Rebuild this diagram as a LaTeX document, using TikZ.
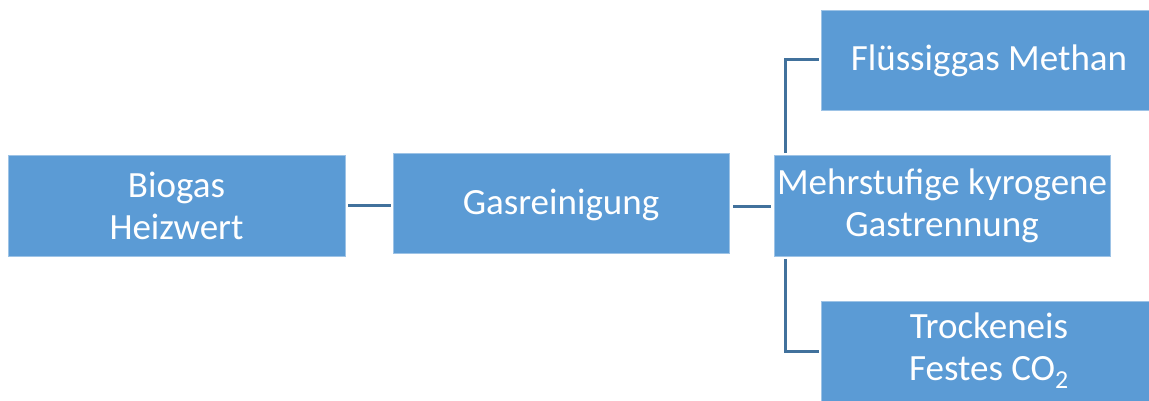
\documentclass[tikz,border=0pt]{standalone}
\usepackage{fontspec}
\setmainfont{Carlito}
\definecolor{boxfill}{HTML}{5B9BD5}
\definecolor{boxedge}{HTML}{9DC3E6}
\definecolor{linkc}{HTML}{41719C}
\begin{document}
\begin{tikzpicture}[x=1pt,y=-1pt,
  box/.style={draw=boxedge, line width=0.8pt, fill=boxfill, text=white,
    inner sep=0pt, align=center, minimum width=336pt, minimum height=100pt,
    font=\fontsize{37}{42}\selectfont},
  oneline/.style={text height=31pt, text depth=9pt},
  link/.style={draw=linkc, line width=3pt}]
\useasboundingbox (0,0) rectangle (1149,401);
\node[box, minimum width=337pt, minimum height=101pt] (bio) at (176.5,205.5) {Biogas\\Heizwert};
\node[box, oneline] (gas) at (561,203) {Gasreinigung};
\node[box, minimum height=101pt] (mehr) at (942,206) {Mehrstufige kyrogene\\Gastrennung};
\node[box, oneline] (flu) at (989,60) {Flüssiggas Methan};
\node[box] (tro) at (989,351) {Trockeneis\\Festes CO\textsubscript{2}};
\draw[link, shorten <=3pt, shorten >=2pt] (bio.east) -- (bio.east -| gas.west);
\draw[link, shorten <=4pt, shorten >=3pt] (gas.east |- mehr.west) -- (mehr.west);
\draw[link] ([xshift=12pt,yshift=2pt]mehr.north west) |- ([xshift=-2pt]flu.west);
\draw[link] ([xshift=12pt,yshift=-2pt]mehr.south west) |- ([xshift=-2pt]tro.west);
\end{tikzpicture}
\end{document}
